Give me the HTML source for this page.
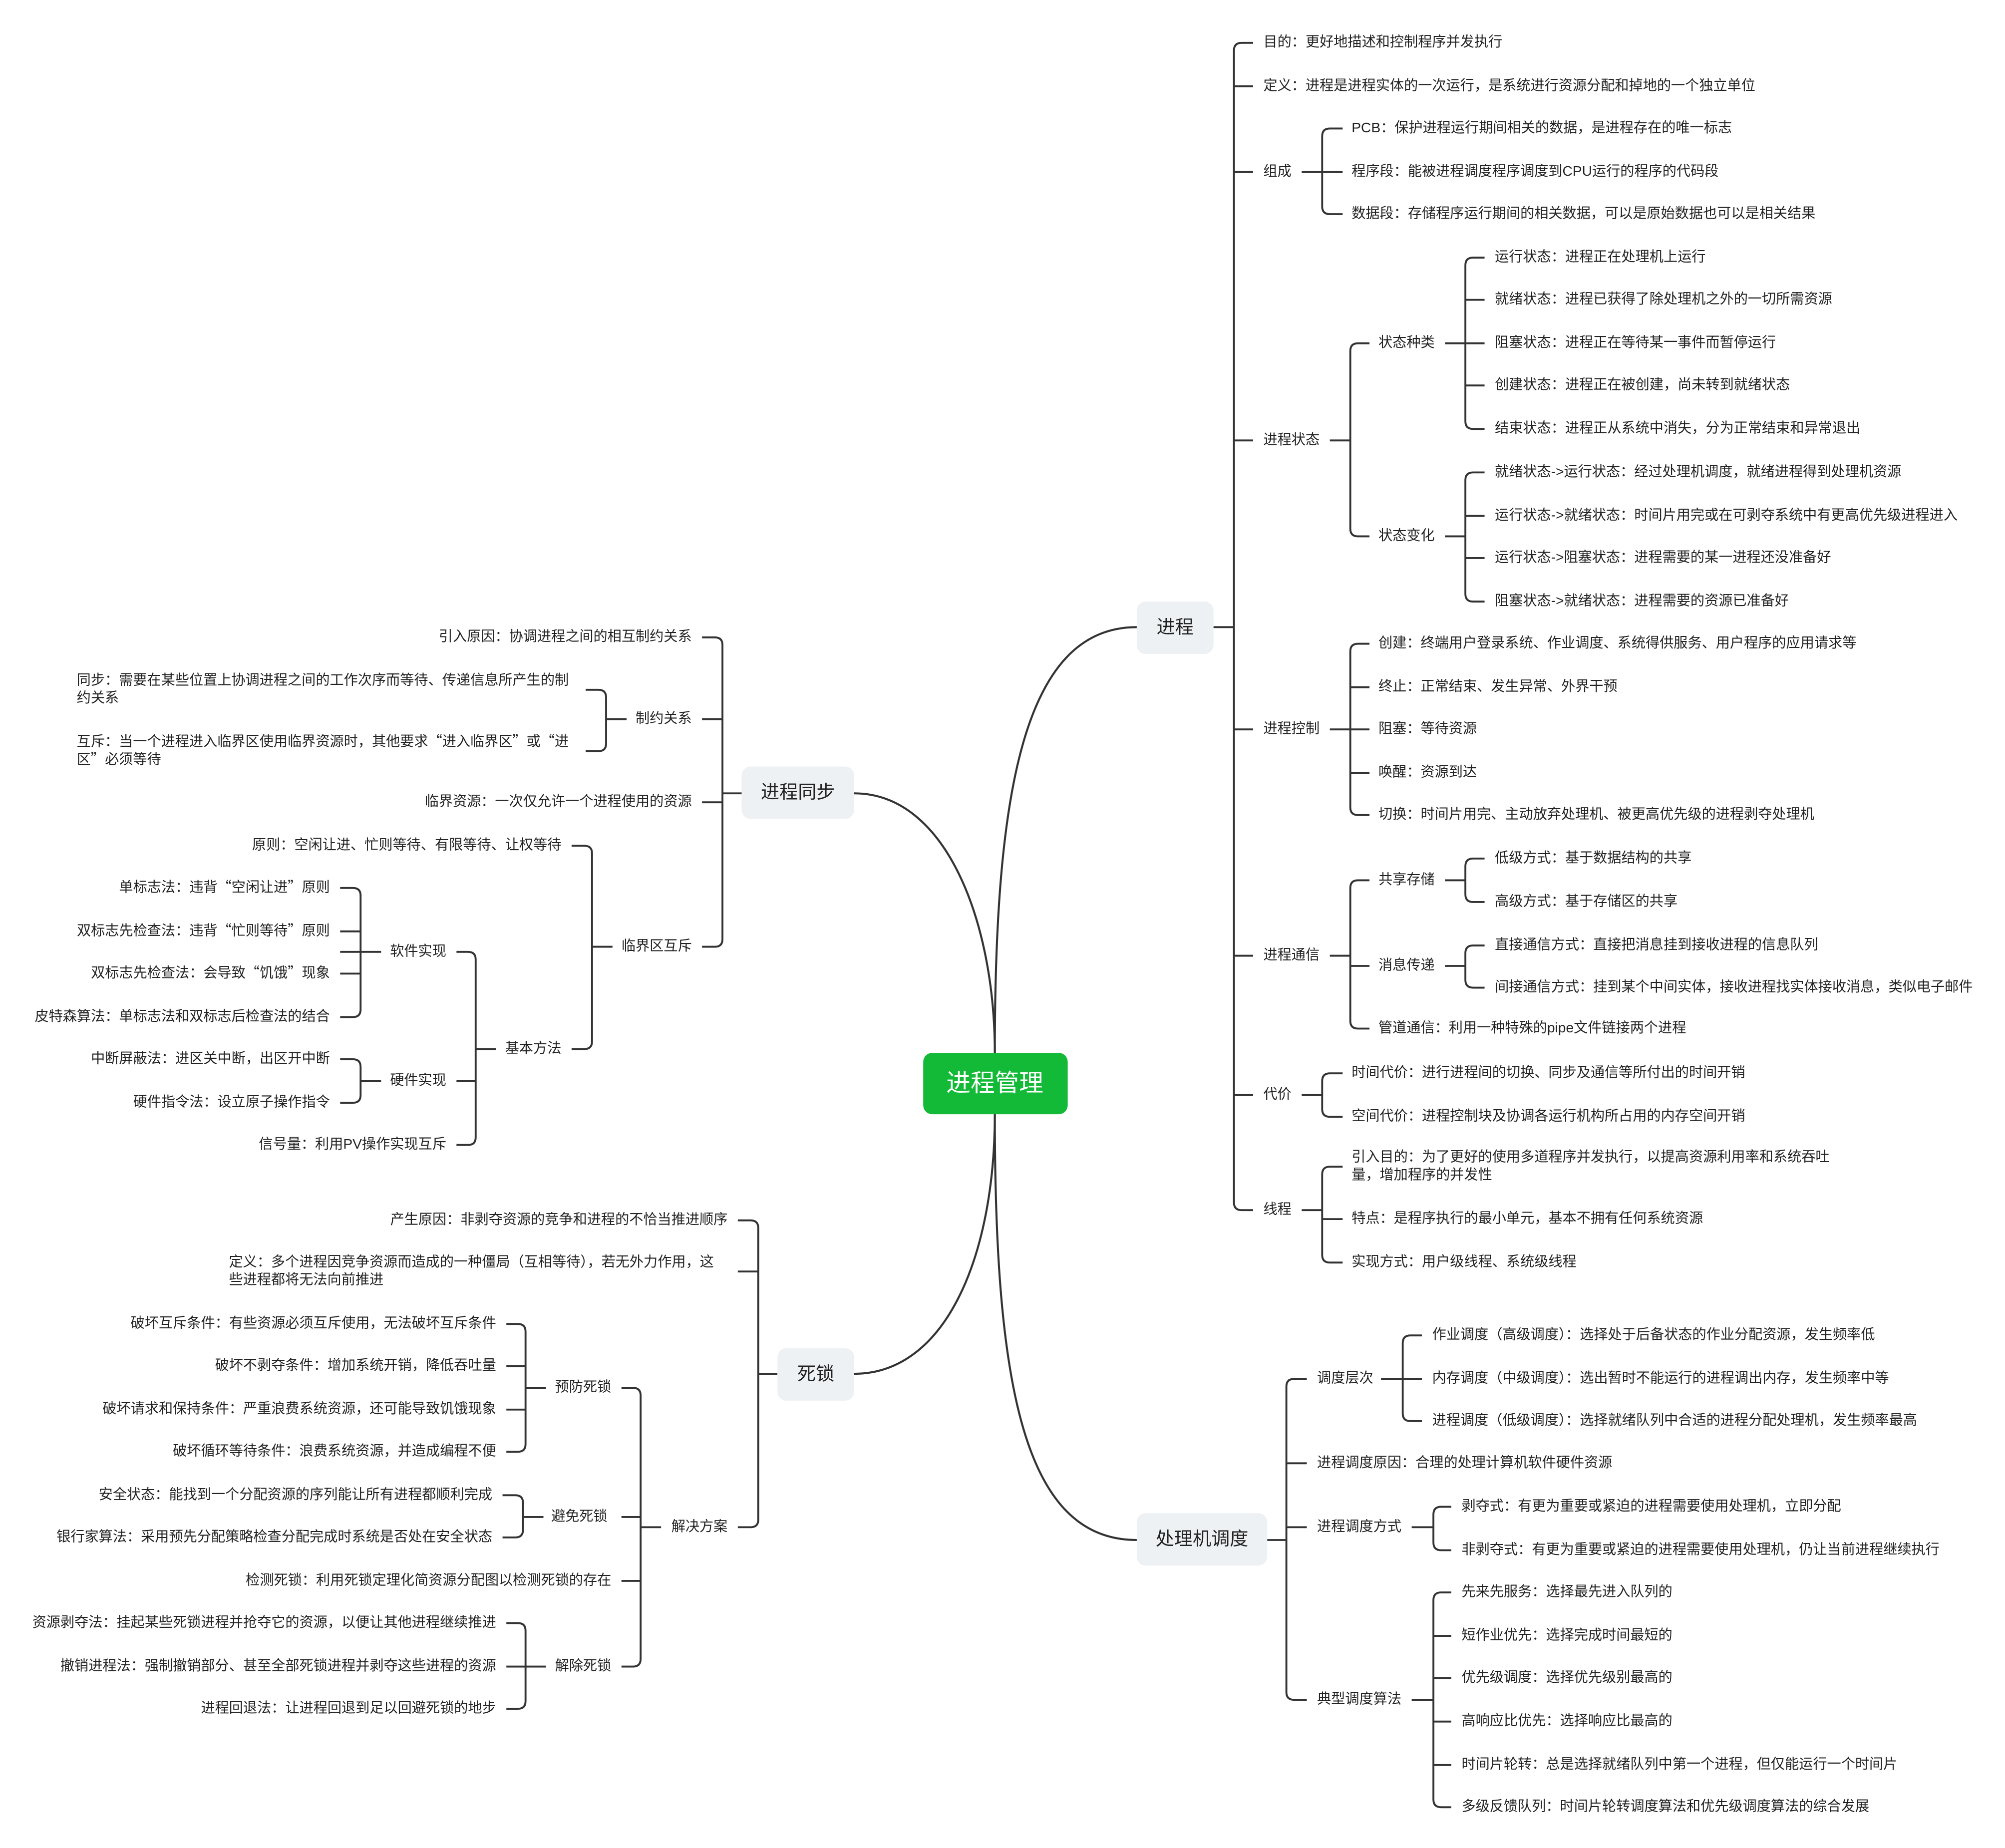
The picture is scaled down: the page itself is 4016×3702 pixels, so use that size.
<!DOCTYPE html>
<html><head><meta charset="utf-8"><style>
html,body{margin:0;padding:0;background:#fff}
svg{display:block}
text{font-family:"Liberation Sans","Noto Sans CJK SC",sans-serif;font-size:11px;fill:#222;dominant-baseline:middle}
.e{text-anchor:end}
.m{text-anchor:middle}
.q{font-family:"Noto Sans CJK SC","Liberation Sans",sans-serif}
</style></head><body>
<svg width="4016" height="3702" viewBox="0 0 1568 1445.4" xmlns="http://www.w3.org/2000/svg">
<g transform="translate(0,1.5)">
<g fill="none" stroke="#333" stroke-width="1.6" stroke-linecap="butt">
<path d="M778,822 C778,620 800,489 889,489"/>
<path d="M778,822 C778,720 740,619 668,619"/>
<path d="M778,870 C778,980 740,1073 668,1073"/>
<path d="M778,870 C778,1080 800,1203 889,1203"/>
</g>
<g fill="none" stroke="#333" stroke-width="1.5">
<path d="M949,489H965 M980,32H971Q965,32 965,38V939Q965,945 971,945H980 M965,66H980 M965,133H980 M965,343H980 M965,569H980 M965,746H980 M965,855H980"/>
<path d="M1018,133H1050 M1050,99H1040Q1034,99 1034,105V160Q1034,166 1040,166H1050"/>
<path d="M1040,343H1056 M1071,267H1062Q1056,267 1056,273V412Q1056,418 1062,418H1071"/>
<path d="M1130,267H1161 M1161,200H1152Q1146,200 1146,206V328Q1146,334 1152,334H1161 M1146,233H1161 M1146,300H1161"/>
<path d="M1130,418H1146 M1161,368H1152Q1146,368 1146,374V463Q1146,469 1152,469H1161 M1146,402H1161 M1146,435H1161"/>
<path d="M1040,569H1071 M1071,502H1062Q1056,502 1056,508V630Q1056,636 1062,636H1071 M1056,536H1071 M1056,603H1071"/>
<path d="M1040,746H1056 M1071,687H1062Q1056,687 1056,693V797Q1056,803 1062,803H1071 M1056,754H1071"/>
<path d="M1130,687H1146 M1161,670H1152Q1146,670 1146,676V698Q1146,704 1152,704H1161"/>
<path d="M1130,754H1146 M1161,738H1152Q1146,738 1146,744V765Q1146,771 1152,771H1161"/>
<path d="M1018,855H1034 M1050,838H1040Q1034,838 1034,844V866Q1034,872 1040,872H1050"/>
<path d="M1018,945H1034 M1050,911H1040Q1034,911 1034,917V980Q1034,986 1040,986H1050 M1034,952H1050"/>
<path d="M991,1203H1006 M1022,1077H1012Q1006,1077 1006,1083V1322Q1006,1328 1012,1328H1022 M1006,1143H1022 M1006,1193H1022"/>
<path d="M1080,1077H1112 M1112,1043H1103Q1097,1043 1097,1049V1104Q1097,1110 1103,1110H1112"/>
<path d="M1104,1193H1121 M1135,1177H1127Q1121,1177 1121,1183V1205Q1121,1211 1127,1211H1135"/>
<path d="M1104,1328H1121 M1135,1244H1127Q1121,1244 1121,1250V1406Q1121,1412 1127,1412H1135 M1121,1278H1135 M1121,1311H1135 M1121,1345H1135 M1121,1379H1135"/>
<path d="M580,619H565 M549,497H559Q565,497 565,503V733Q565,739 559,739H549 M565,561H549 M565,626H549"/>
<path d="M490,561H474 M458,538H468Q474,538 474,544V580Q474,586 468,586H458"/>
<path d="M479,739H463 M447,660H457Q463,660 463,666V813Q463,819 457,819H447"/>
<path d="M388,819H372 M357,743H366Q372,743 372,749V888Q372,894 366,894H357 M372,844H357"/>
<path d="M298,743H266 M266,693H276Q282,693 282,699V788Q282,794 276,794H266 M282,727H266 M282,760H266"/>
<path d="M298,844H282 M266,827H276Q282,827 282,833V855Q282,861 276,861H266"/>
<path d="M608,1073H593 M577,953H587Q593,953 593,959V1187Q593,1193 587,1193H577 M593,993H577"/>
<path d="M517,1193H501 M486,1084H495Q501,1084 501,1090V1296Q501,1302 495,1302H486 M501,1185H486 M501,1235H486"/>
<path d="M427,1084H411 M396,1034H405Q411,1034 411,1040V1128Q411,1134 405,1134H396 M411,1067H396 M411,1101H396"/>
<path d="M425,1185H409 M393,1168H403Q409,1168 409,1174V1195Q409,1201 403,1201H393"/>
<path d="M427,1302H396 M396,1268H405Q411,1268 411,1274V1329Q411,1335 405,1335H396"/>
</g>
<rect x="722" y="822" width="113" height="48" rx="7" fill="#13ba37"/>
<text x="778" y="847" class="m" style="font-size:19px;fill:#fff">进程管理</text>
<rect x="889" y="469" width="60" height="41" rx="7" fill="#eef1f4"/>
<text x="919" y="490" class="m" style="font-size:14.5px">进程</text>
<rect x="889" y="1182" width="102" height="41" rx="7" fill="#eef1f4"/>
<text x="940" y="1203" class="m" style="font-size:14.5px">处理机调度</text>
<rect x="580" y="598" width="88" height="41" rx="7" fill="#eef1f4"/>
<text x="624" y="619" class="m" style="font-size:14.5px">进程同步</text>
<rect x="608" y="1053" width="60" height="41" rx="7" fill="#eef1f4"/>
<text x="638" y="1074" class="m" style="font-size:14.5px">死锁</text>
<text x="988" y="32">目的：更好地描述和控制程序并发执行</text>
<text x="988" y="66">定义：进程是进程实体的一次运行，是系统进行资源分配和掉地的一个独立单位</text>
<text x="988" y="133">组成</text>
<text x="1057" y="99">PCB：保护进程运行期间相关的数据，是进程存在的唯一标志</text>
<text x="1057" y="133">程序段：能被进程调度程序调度到CPU运行的程序的代码段</text>
<text x="1057" y="166">数据段：存储程序运行期间的相关数据，可以是原始数据也可以是相关结果</text>
<text x="988" y="343">进程状态</text>
<text x="1078" y="267">状态种类</text>
<text x="1169" y="200">运行状态：进程正在处理机上运行</text>
<text x="1169" y="233">就绪状态：进程已获得了除处理机之外的一切所需资源</text>
<text x="1169" y="267">阻塞状态：进程正在等待某一事件而暂停运行</text>
<text x="1169" y="300">创建状态：进程正在被创建，尚未转到就绪状态</text>
<text x="1169" y="334">结束状态：进程正从系统中消失，分为正常结束和异常退出</text>
<text x="1078" y="418">状态变化</text>
<text x="1169" y="368">就绪状态-&gt;运行状态：经过处理机调度，就绪进程得到处理机资源</text>
<text x="1169" y="402">运行状态-&gt;就绪状态：时间片用完或在可剥夺系统中有更高优先级进程进入</text>
<text x="1169" y="435">运行状态-&gt;阻塞状态：进程需要的某一进程还没准备好</text>
<text x="1169" y="469">阻塞状态-&gt;就绪状态：进程需要的资源已准备好</text>
<text x="988" y="569">进程控制</text>
<text x="1078" y="502">创建：终端用户登录系统、作业调度、系统得供服务、用户程序的应用请求等</text>
<text x="1078" y="536">终止：正常结束、发生异常、外界干预</text>
<text x="1078" y="569">阻塞：等待资源</text>
<text x="1078" y="603">唤醒：资源到达</text>
<text x="1078" y="636">切换：时间片用完、主动放弃处理机、被更高优先级的进程剥夺处理机</text>
<text x="988" y="746">进程通信</text>
<text x="1078" y="687">共享存储</text>
<text x="1169" y="670">低级方式：基于数据结构的共享</text>
<text x="1169" y="704">高级方式：基于存储区的共享</text>
<text x="1078" y="754">消息传递</text>
<text x="1169" y="738">直接通信方式：直接把消息挂到接收进程的信息队列</text>
<text x="1169" y="771">间接通信方式：挂到某个中间实体，接收进程找实体接收消息，类似电子邮件</text>
<text x="1078" y="803">管道通信：利用一种特殊的pipe文件链接两个进程</text>
<text x="988" y="855">代价</text>
<text x="1057" y="838">时间代价：进行进程间的切换、同步及通信等所付出的时间开销</text>
<text x="1057" y="872">空间代价：进程控制块及协调各运行机构所占用的内存空间开销</text>
<text x="988" y="945">线程</text>
<text x="1057" y="904">引入目的：为了更好的使用多道程序并发执行，以提高资源利用率和系统吞吐</text>
<text x="1057" y="918">量，增加程序的并发性</text>
<text x="1057" y="952">特点：是程序执行的最小单元，基本不拥有任何系统资源</text>
<text x="1057" y="986">实现方式：用户级线程、系统级线程</text>
<text x="1030" y="1077">调度层次</text>
<text x="1120" y="1043">作业调度（高级调度）：选择处于后备状态的作业分配资源，发生频率低</text>
<text x="1120" y="1077">内存调度（中级调度）：选出暂时不能运行的进程调出内存，发生频率中等</text>
<text x="1120" y="1110">进程调度（低级调度）：选择就绪队列中合适的进程分配处理机，发生频率最高</text>
<text x="1030" y="1143">进程调度原因：合理的处理计算机软件硬件资源</text>
<text x="1030" y="1193">进程调度方式</text>
<text x="1143" y="1177">剥夺式：有更为重要或紧迫的进程需要使用处理机，立即分配</text>
<text x="1143" y="1211">非剥夺式：有更为重要或紧迫的进程需要使用处理机，仍让当前进程继续执行</text>
<text x="1030" y="1328">典型调度算法</text>
<text x="1143" y="1244">先来先服务：选择最先进入队列的</text>
<text x="1143" y="1278">短作业优先：选择完成时间最短的</text>
<text x="1143" y="1311">优先级调度：选择优先级别最高的</text>
<text x="1143" y="1345">高响应比优先：选择响应比最高的</text>
<text x="1143" y="1379">时间片轮转：总是选择就绪队列中第一个进程，但仅能运行一个时间片</text>
<text x="1143" y="1412">多级反馈队列：时间片轮转调度算法和优先级调度算法的综合发展</text>
<text x="541" y="497" class="e">引入原因：协调进程之间的相互制约关系</text>
<text x="541" y="561" class="e">制约关系</text>
<text x="60" y="531">同步：需要在某些位置上协调进程之间的工作次序而等待、传递信息所产生的制</text>
<text x="60" y="545">约关系</text>
<text x="60" y="579" class="q">互斥：当一个进程进入临界区使用临界资源时，其他要求“进入临界区”或“进</text>
<text x="60" y="593" class="q">区”必须等待</text>
<text x="541" y="626" class="e">临界资源：一次仅允许一个进程使用的资源</text>
<text x="541" y="739" class="e">临界区互斥</text>
<text x="439" y="660" class="e">原则：空闲让进、忙则等待、有限等待、让权等待</text>
<text x="439" y="819" class="e">基本方法</text>
<text x="349" y="743" class="e">软件实现</text>
<text x="258" y="693" class="e q">单标志法：违背“空闲让进”原则</text>
<text x="258" y="727" class="e q">双标志先检查法：违背“忙则等待”原则</text>
<text x="258" y="760" class="e q">双标志先检查法：会导致“饥饿”现象</text>
<text x="258" y="794" class="e">皮特森算法：单标志法和双标志后检查法的结合</text>
<text x="349" y="844" class="e">硬件实现</text>
<text x="258" y="827" class="e">中断屏蔽法：进区关中断，出区开中断</text>
<text x="258" y="861" class="e">硬件指令法：设立原子操作指令</text>
<text x="349" y="894" class="e">信号量：利用PV操作实现互斥</text>
<text x="569" y="953" class="e">产生原因：非剥夺资源的竞争和进程的不恰当推进顺序</text>
<text x="179" y="986" class="q">定义：多个进程因竞争资源而造成的一种僵局（互相等待），若无外力作用，这</text>
<text x="179" y="1000">些进程都将无法向前推进</text>
<text x="569" y="1193" class="e">解决方案</text>
<text x="478" y="1084" class="e">预防死锁</text>
<text x="388" y="1034" class="e">破坏互斥条件：有些资源必须互斥使用，无法破坏互斥条件</text>
<text x="388" y="1067" class="e">破坏不剥夺条件：增加系统开销，降低吞吐量</text>
<text x="388" y="1101" class="e">破坏请求和保持条件：严重浪费系统资源，还可能导致饥饿现象</text>
<text x="388" y="1134" class="e">破坏循环等待条件：浪费系统资源，并造成编程不便</text>
<text x="475" y="1185" class="e">避免死锁</text>
<text x="385" y="1168" class="e">安全状态：能找到一个分配资源的序列能让所有进程都顺利完成</text>
<text x="385" y="1201" class="e">银行家算法：采用预先分配策略检查分配完成时系统是否处在安全状态</text>
<text x="478" y="1235" class="e">检测死锁：利用死锁定理化简资源分配图以检测死锁的存在</text>
<text x="478" y="1302" class="e">解除死锁</text>
<text x="388" y="1268" class="e">资源剥夺法：挂起某些死锁进程并抢夺它的资源，以便让其他进程继续推进</text>
<text x="388" y="1302" class="e">撤销进程法：强制撤销部分、甚至全部死锁进程并剥夺这些进程的资源</text>
<text x="388" y="1335" class="e">进程回退法：让进程回退到足以回避死锁的地步</text>
</g>
</svg>
</body></html>
